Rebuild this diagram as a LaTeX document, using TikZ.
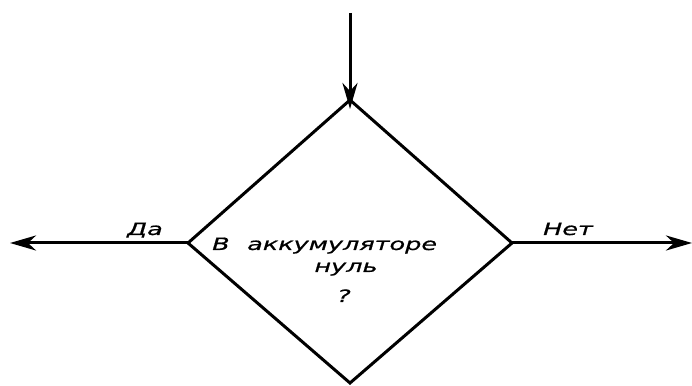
\documentclass[tikz,border=0pt]{standalone}
\usepackage{fontspec}
\setmainfont{DejaVu Sans}[FakeStretch=1.5,FakeBold=0.8]
\usetikzlibrary{arrows.meta}
\tikzset{
  flowarrow/.style={line width=3pt, -{Stealth[length=26pt,width=15pt,inset=8pt]}},
  diamondline/.style={line width=3pt, line join=miter},
  lbl/.style={font=\fontsize{17}{19}\selectfont\itshape, inner sep=0pt}
}
\begin{document}
\begin{tikzpicture}[x=1pt,y=1pt]
\useasboundingbox (0,0) rectangle (692,385);
\coordinate (top) at (350,285);
\coordinate (left) at (188,142);
\coordinate (right) at (512,142);
\coordinate (bot) at (350,2);
\coordinate (in) at (350,372);
\coordinate (outL) at (10,142);
\coordinate (outR) at (692,142);
\draw[diamondline] (top) -- (right) -- (bot) -- (left) -- cycle;
\draw[flowarrow] (in) -- ([yshift=-9pt]top);
\draw[flowarrow] (left) -- (outL);
\draw[flowarrow] (right) -- (outR);
\node[lbl, anchor=base west] (t1) at (212,135) {В};
\node[lbl, anchor=base west] (t2) at (247,135) {аккумуляторе};
\node[lbl, anchor=base] (t3) at (346,113) {нуль};
\node[lbl, anchor=base] (t4) at (344,83) {?};
\node[lbl, anchor=base] (da) at (145,150) {Да};
\node[lbl, anchor=base] (net) at (568,150) {Нет};
\end{tikzpicture}
\end{document}
